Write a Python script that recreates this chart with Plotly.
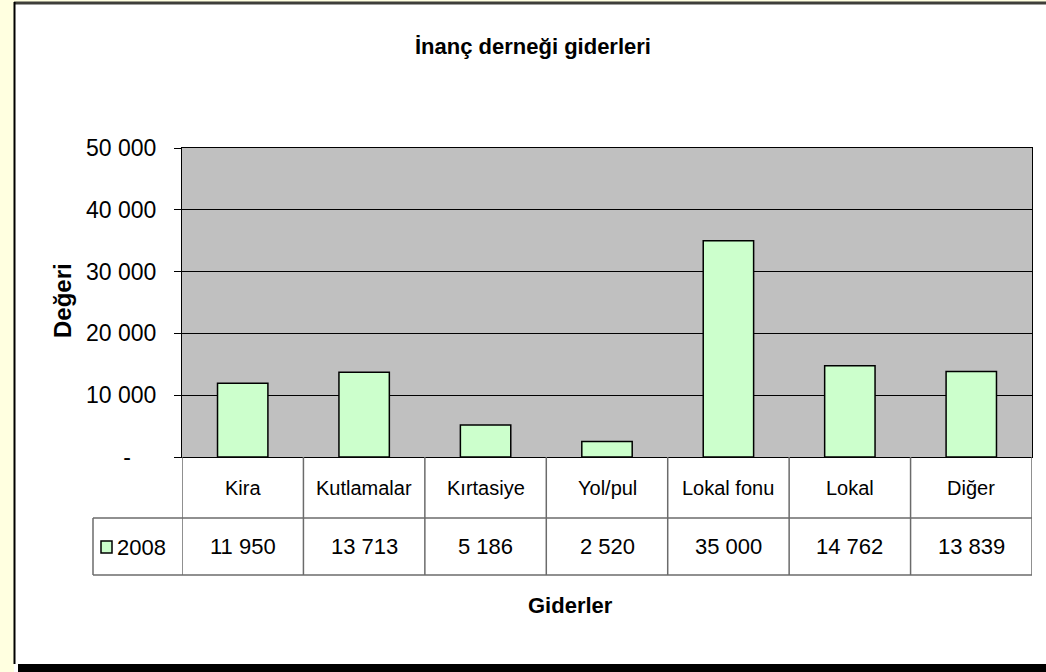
import plotly.graph_objects as go

W, H = 1046, 672

# data
giderler = ["Kira", "Kutlamalar", "Kırtasiye", "Yol/pul", "Lokal fonu", "Lokal", "Diğer"]
degerler_2008 = [11950, 13713, 5186, 2520, 35000, 14762, 13839]
seri_adi = "2008"
y_tick_vals = [0, 10000, 20000, 30000, 40000, 50000]
y_tick_text = ["-" + "\u00a0" * 4, "10 000", "20 000", "30 000", "40 000", "50 000"]

FONT = "Liberation Sans Narrow, Arial Narrow, Liberation Sans, Arial, sans-serif"
BAR_COLOR = "#CCFFCC"
TABLE_LINE = "#6b6b6b"
PAGE_BG = "#FFFFE0"


def px_x(x):
    return x / W


def px_y(y):
    return 1 - y / H


def fmt(v):
    return f"{v:,}".replace(",", " ")


# plot area / table geometry in pixels
PL, PR, PT, PB = 182, 1032, 148, 457
ROW1, ROW2 = 518, 575
LEG_L = 93

fig = go.Figure()
fig.add_trace(go.Bar(
    x=giderler, y=degerler_2008, name=seri_adi,
    marker=dict(color=BAR_COLOR, line=dict(color="black", width=1.5)),
    showlegend=False,
))

shapes = [
    # page background around the chart area
    dict(type="rect", xref="paper", yref="paper", x0=0, x1=px_x(14),
         y0=0, y1=1, fillcolor=PAGE_BG, line=dict(width=0), layer="below"),
    dict(type="rect", xref="paper", yref="paper", x0=0, x1=1,
         y0=px_y(2), y1=1, fillcolor=PAGE_BG, line=dict(width=0), layer="below"),
    # shadow under chart area
    dict(type="rect", xref="paper", yref="paper", x0=px_x(18), x1=1,
         y0=0, y1=px_y(664), fillcolor="black", line=dict(width=0), layer="below"),
    # chart area border
    dict(type="line", xref="paper", yref="paper", x0=px_x(14), x1=1,
         y0=px_y(3), y1=px_y(3), line=dict(color="#3f3f3a", width=3)),
    dict(type="line", xref="paper", yref="paper", x0=px_x(14.5), x1=px_x(14.5),
         y0=px_y(2), y1=px_y(664), line=dict(color="black", width=2)),
    # table horizontal lines
    dict(type="line", xref="paper", yref="paper", x0=px_x(LEG_L), x1=px_x(PR),
         y0=px_y(ROW1), y1=px_y(ROW1), line=dict(color=TABLE_LINE, width=1.5)),
    dict(type="line", xref="paper", yref="paper", x0=px_x(LEG_L), x1=px_x(PR),
         y0=px_y(ROW2), y1=px_y(ROW2), line=dict(color=TABLE_LINE, width=1.5)),
    # legend cell left edge
    dict(type="line", xref="paper", yref="paper", x0=px_x(LEG_L), x1=px_x(LEG_L),
         y0=px_y(ROW1), y1=px_y(ROW2), line=dict(color=TABLE_LINE, width=1.5)),
    # legend key
    dict(type="rect", xref="paper", yref="paper", x0=px_x(101), x1=px_x(112),
         y0=px_y(541), y1=px_y(553), fillcolor=BAR_COLOR, line=dict(color="black", width=1.5)),
]
# table column separators
for i in range(len(giderler) + 1):
    shapes.append(dict(type="line", xref="x", yref="paper", x0=i - 0.5, x1=i - 0.5,
                       y0=px_y(PB), y1=px_y(ROW2), line=dict(color=TABLE_LINE, width=1.5)))

annotations = []
for cat, val in zip(giderler, degerler_2008):
    annotations.append(dict(x=cat, xref="x", y=px_y((PB + ROW1) / 2), yref="paper",
                            yanchor="middle", xanchor="center",
                            text=cat, showarrow=False, font=dict(size=20, color="black")))
    annotations.append(dict(x=cat, xref="x", y=px_y((ROW1 + ROW2) / 2), yref="paper",
                            yanchor="middle", xanchor="center",
                            text=fmt(val), showarrow=False, font=dict(size=22, color="black")))
annotations += [
    dict(x=px_x(115), xref="paper", y=px_y(547), yref="paper", xanchor="left", yanchor="middle",
         text=seri_adi, showarrow=False, font=dict(size=22, color="black")),
    dict(x=px_x(533), xref="paper", y=px_y(47), yref="paper", xanchor="center", yanchor="middle",
         text="<b>İnanç derneği giderleri</b>", showarrow=False, font=dict(size=22, color="black")),
    dict(x=px_x(570), xref="paper", y=px_y(605), yref="paper", xanchor="center", yanchor="middle",
         text="<b>Giderler</b>", showarrow=False, font=dict(size=22, color="black")),
    dict(x=px_x(62), xref="paper", y=px_y(301), yref="paper", xanchor="center", yanchor="middle",
         textangle=-90, text="<b>Değeri</b>", showarrow=False, font=dict(size=24, color="black")),
]

fig.update_layout(
    template="none",
    width=W, height=H,
    margin=dict(l=0, r=0, t=0, b=0, pad=0),
    autosize=False,
    paper_bgcolor="white",
    plot_bgcolor="#C0C0C0",
    font=dict(family=FONT, color="black"),
    bargap=0.585,
    shapes=shapes,
    annotations=annotations,
    xaxis=dict(
        domain=[px_x(PL), px_x(PR)],
        range=[-0.5, len(giderler) - 0.5],
        showticklabels=False, ticks="",
        showgrid=False, zeroline=False,
        showline=True, linecolor="black", linewidth=1, mirror=True,
        automargin=False,
        fixedrange=True,
    ),
    yaxis=dict(
        domain=[px_y(PB), px_y(PT)],
        range=[0, 50000],
        tickvals=y_tick_vals, ticktext=y_tick_text,
        ticks="outside", ticklen=7, tickcolor="black", tickwidth=1,
        ticklabelstandoff=13,
        tickfont=dict(size=23, color="black"),
        showgrid=True, gridcolor="black", gridwidth=1,
        zeroline=False,
        showline=True, linecolor="black", linewidth=1, mirror=True,
        automargin=False,
        fixedrange=True,
    ),
)

# page without the default body margin, so the figure fills the window
fig.write_html(
    "out.html",
    config={"displayModeBar": False},
    post_script="document.body.style.margin='0'; document.body.style.background='%s';" % PAGE_BG,
)
